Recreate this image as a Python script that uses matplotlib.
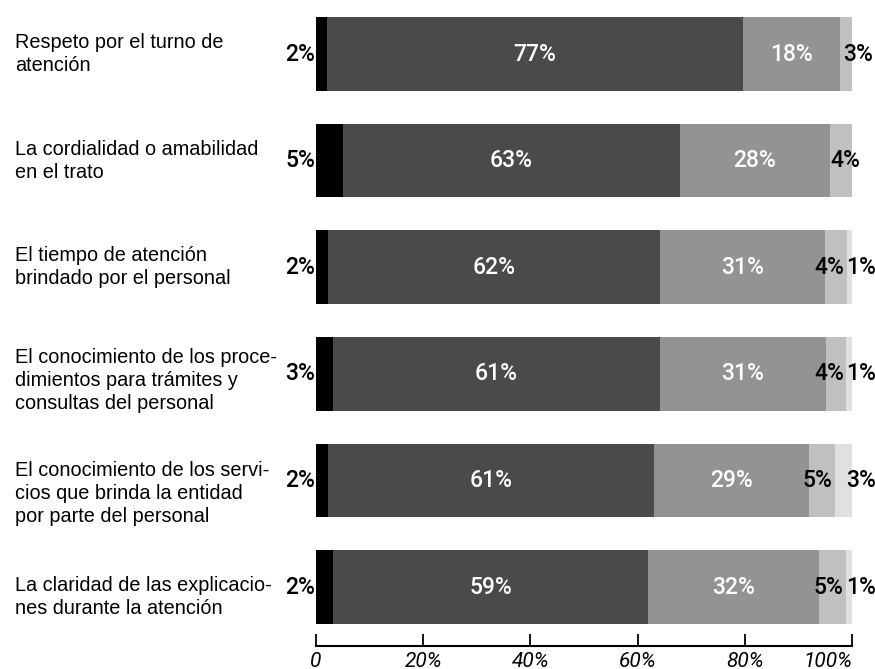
import matplotlib
matplotlib.use("Agg")
import matplotlib.pyplot as plt
from matplotlib import font_manager

categories = [
    "Respeto por el turno de\natención",
    "La cordialidad o amabilidad\nen el trato",
    "El tiempo de atención\nbrindado por el personal",
    "El conocimiento de los proce-\ndimientos para trámites y\nconsultas del personal",
    "El conocimiento de los servi-\ncios que brinda la entidad\npor parte del personal",
    "La claridad de las explicacio-\nnes durante la atención",
]

# segment widths (%) as measured from the bars
seg_black = [2.0, 5.0, 2.2, 3.1, 2.2, 3.2]
seg_dark = [77.6, 62.9, 61.9, 61.0, 60.9, 58.8]
seg_medium = [18.1, 28.0, 30.9, 31.0, 28.9, 31.8]
seg_light = [2.3, 4.1, 4.0, 3.8, 4.8, 5.0]
seg_vlight = [0.0, 0.0, 1.0, 1.1, 3.2, 1.2]

# printed labels
lab_black = ["2%", "5%", "2%", "3%", "2%", "2%"]
lab_dark = ["77%", "63%", "62%", "61%", "61%", "59%"]
lab_medium = ["18%", "28%", "31%", "31%", "29%", "32%"]
lab_light = ["3%", "4%", "4%", "4%", "5%", "5%"]
lab_vlight = ["", "", "1%", "1%", "3%", "1%"]

tick_values = [0, 20, 40, 60, 80, 100]
tick_labels = ["0", "20%", "40%", "60%", "80%", "100%"]

colors = ["#000000", "#4a4a4a", "#939393", "#c0c0c0", "#e0e0e0"]

avail = {f.name for f in font_manager.fontManager.ttflist}
if "Liberation Sans Narrow" in avail:
    num_font = ["Liberation Sans Narrow", "DejaVu Sans"]
else:
    num_font = ["Roboto", "DejaVu Sans"]
cat_font = ["Liberation Sans", "DejaVu Sans"]

fig = plt.figure(figsize=(8.75, 6.69), dpi=100)
ax = fig.add_axes([316 / 875, 1 - 646 / 669, (852 - 316) / 875, 645.3 / 669])

n = len(categories)
ypos = list(range(n))
bar_h = 0.69
segments = [seg_black, seg_dark, seg_medium, seg_light, seg_vlight]
lefts = [0.0] * n
starts = []
for seg, col in zip(segments, colors):
    ax.barh(ypos, seg, left=lefts, height=bar_h, color=col, edgecolor="none")
    starts.append(list(lefts))
    lefts = [l + s for l, s in zip(lefts, seg)]

fs = 16.5
wt = "medium"
text_nudge = [0.0, 0.0, 0.0, 0.06, 0.12, 0.09]
for i in range(n):
    y = ypos[i]
    ax.text(-0.1, y, lab_black[i], ha="right", va="center", fontsize=fs,
            family=num_font, weight=wt, color="black")
    ax.text(starts[1][i] + seg_dark[i] / 2, y, lab_dark[i], ha="center", va="center",
            fontsize=fs, family=num_font, weight=wt, color="white")
    ax.text(starts[2][i] + seg_medium[i] / 2, y, lab_medium[i], ha="center", va="center",
            fontsize=fs, family=num_font, weight=wt, color="white")
    if seg_vlight[i] > 0:
        ax.text(starts[3][i] + seg_light[i] - 0.4, y, lab_light[i], ha="right", va="center",
                fontsize=fs, family=num_font, weight=wt, color="black")
        ax.text(98.9, y, lab_vlight[i], ha="left", va="center", fontsize=fs,
                family=num_font, weight=wt, color="black")
    else:
        ax.text(starts[3][i] + (0.6 if i == 0 else 0.0), y, lab_light[i], ha="left",
                va="center", fontsize=fs, family=num_font, weight=wt, color="black")
    ax.text(-56.2, y + text_nudge[i], categories[i], ha="left", va="center", fontsize=14.3,
            family=cat_font, color="black", linespacing=1.27)

ax.set_xlim(0, 100)
ax.set_ylim(n - 1 + 0.553, -0.5)
for s in ["top", "right", "left"]:
    ax.spines[s].set_visible(False)
ax.spines["bottom"].set_linewidth(1.5)
ax.set_yticks([])
ax.set_xticks(tick_values)
ax.set_xticklabels(tick_labels, fontsize=15, family=num_font, style="italic")
ax.tick_params(axis="x", direction="in", length=9, width=1.3, pad=4)
ax.get_xticklabels()[-1].set_ha("right")

fig.savefig("out.png", dpi=100)
